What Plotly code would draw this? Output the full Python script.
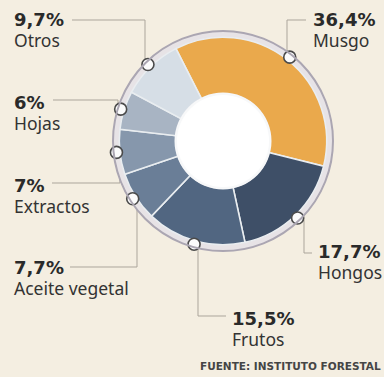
import plotly.graph_objects as go

# ---- data ----
categories = ["Musgo", "Hongos", "Frutos", "Aceite vegetal", "Extractos", "Hojas", "Otros"]
values = [36.4, 17.7, 15.5, 7.7, 7, 6, 9.7]
colors = ["#EAA94C", "#3E4F67", "#516681", "#6A7E97", "#8697AC", "#A8B4C3", "#D6DEE6"]
source = "FUENTE: INSTITUTO FORESTAL"

W, H = 384, 377
CX, CY, R_OUT, R_HOLE = 223, 141, 110, 47

# label placement (pixels: left x, vertical centre of the two-line label)
label_pos = {
    "Musgo": (311, 30),
    "Hongos": (316, 262),
    "Frutos": (230, 329),
    "Aceite vegetal": (12, 278),
    "Extractos": (12, 196.5),
    "Hojas": (12, 113),
    "Otros": (12, 30.5),
}
# leader line paths (pixels)
leaders = {
    "Musgo": [(306, 20), (287, 20), (287, 57)],
    "Hongos": [(304, 212), (304, 253), (312, 253)],
    "Frutos": [(198, 242), (198, 316), (226, 316)],
    "Aceite vegetal": [(70, 267), (137, 267), (137, 205)],
    "Extractos": [(52, 183), (120, 183), (119, 156)],
    "Hojas": [(53, 100), (118, 100), (118, 115)],
    "Otros": [(72, 20), (145, 20), (145, 67)],
}

# angular geometry from data
widths = [v * 3.6 for v in values]
mids = []
acc = 0
for w in widths:
    mids.append(acc + w / 2)
    acc += w

fig = go.Figure()
fig.add_trace(go.Barpolar(
    theta=mids, width=widths, r=[0.9] * len(values),
    marker=dict(color=colors, line=dict(color="#E9EDF0", width=1.6)),
    subplot="polar", hoverinfo="skip", showlegend=False,
))
fig.add_trace(go.Scatterpolar(
    theta=mids, r=[0.955] * len(values), mode="markers",
    marker=dict(size=12, color="#FBFBFB", line=dict(color="#4A4A4A", width=1.6)),
    cliponaxis=False, subplot="polar", hoverinfo="skip", showlegend=False,
))

shapes = []
for name, pts in leaders.items():
    path = "M " + " L ".join(f"{x},{y}" for x, y in pts)
    shapes.append(dict(type="path", path=path, xref="x", yref="y", layer="below",
                       line=dict(color="#ABA59B", width=1)))
shapes.append(dict(type="circle", xref="x", yref="y", layer="above",
                   x0=CX - R_HOLE - 1.5, x1=CX + R_HOLE + 1.5, y0=CY - R_HOLE - 1.5, y1=CY + R_HOLE + 1.5,
                   fillcolor="#F7F8F9", line=dict(width=0)))
shapes.append(dict(type="circle", xref="x", yref="y", layer="above",
                   x0=CX - R_HOLE + 1, x1=CX + R_HOLE - 1, y0=CY - R_HOLE + 1, y1=CY + R_HOLE - 1,
                   fillcolor="#FFFFFF", line=dict(width=0)))

annotations = []
for name, v in zip(categories, values):
    x, yc = label_pos[name]
    pct = f"{v:g}".replace(".", ",") + "%"
    text = (f"<span style='font-family:DejaVu Sans;font-size:18px;color:#2A2A2A'><b>{pct}</b></span>"
            f"<br><span style='font-size:17.5px'>{name}</span>")
    annotations.append(dict(x=x, y=yc, xref="x", yref="y", text=text, showarrow=False,
                            xanchor="left", yanchor="middle", align="left",
                            font=dict(family="Noto Sans", size=16.3, color="#333333")))
annotations.append(dict(x=383, y=366, xref="x", yref="y", text=f"<b>{source}</b>", showarrow=False,
                        xanchor="right", yanchor="middle",
                        font=dict(family="DejaVu Sans", size=10.5, color="#454545")))

fig.update_layout(
    width=W, height=H, margin=dict(l=0, r=0, t=0, b=0),
    paper_bgcolor="#F4EEE1", plot_bgcolor="rgba(0,0,0,0)",
    xaxis=dict(range=[0, W], visible=False, fixedrange=True, domain=[0, 1]),
    yaxis=dict(range=[H, 0], visible=False, fixedrange=True, domain=[0, 1]),
    polar=dict(
        domain=dict(x=[(CX - R_OUT) / W, (CX + R_OUT) / W],
                    y=[1 - (CY + R_OUT) / H, 1 - (CY - R_OUT) / H]),
        hole=R_HOLE / R_OUT,
        bgcolor="#E7E3E6",
        radialaxis=dict(range=[0, 1], visible=False),
        angularaxis=dict(direction="clockwise", rotation=117, showticklabels=False,
                         ticks="", showgrid=False, showline=True,
                         linecolor="#ABA6B2", linewidth=2),
    ),
    shapes=shapes, annotations=annotations, showlegend=False,
)
fig.write_html("out.html")
